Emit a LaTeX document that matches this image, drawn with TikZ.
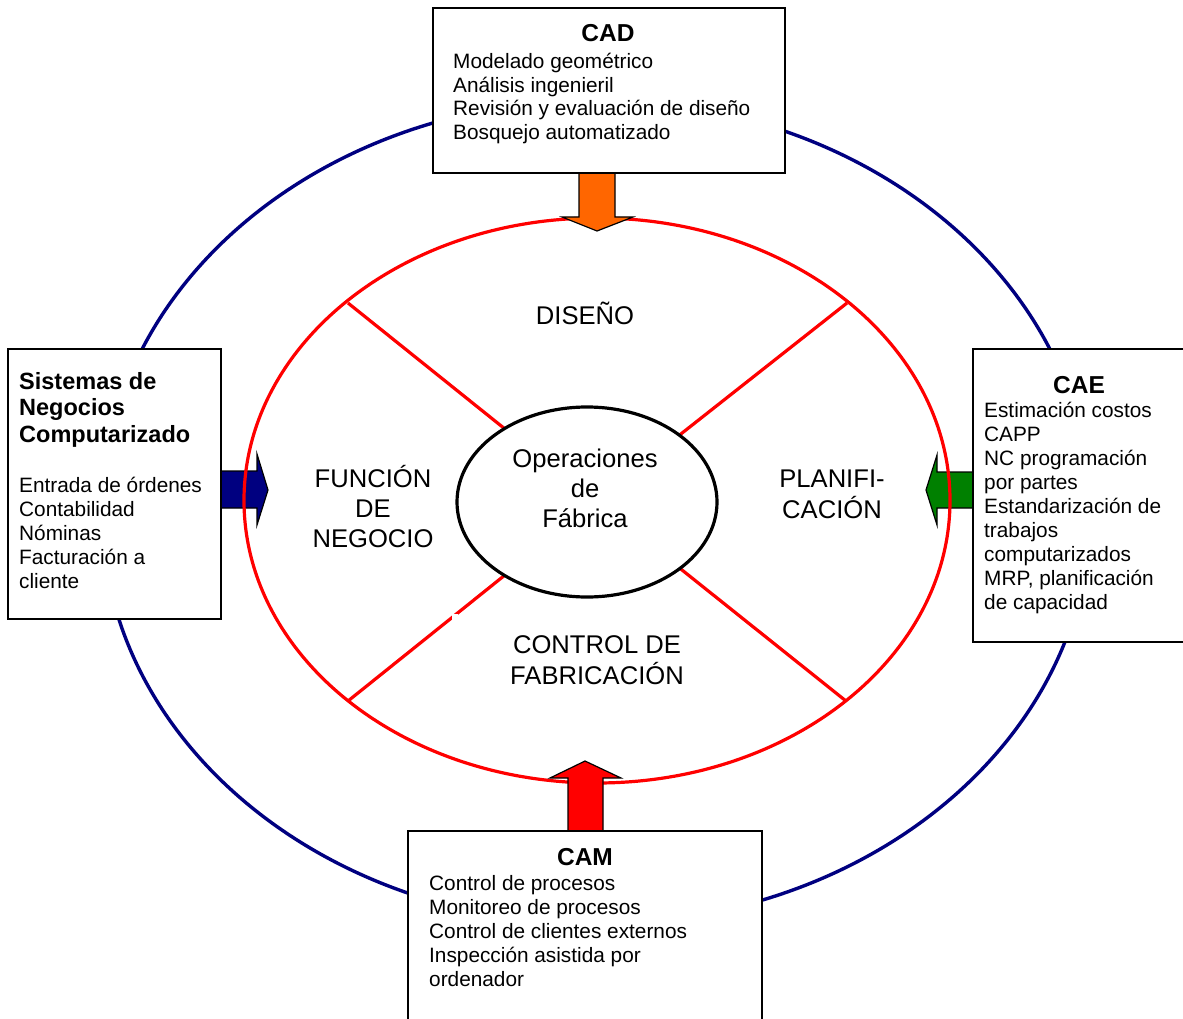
\documentclass[tikz,border=0pt]{standalone}
\usepackage{fontspec}
\setmainfont{Liberation Sans}
\definecolor{navyline}{RGB}{0,0,128}
\definecolor{ringred}{RGB}{255,0,0}
\definecolor{cadorange}{RGB}{255,102,0}
\definecolor{caegreen}{RGB}{0,128,0}

\begin{document}
\begin{tikzpicture}[x=1pt,y=-1pt,
  box/.style={draw=black, line width=2pt, fill=white, inner sep=0pt, outer sep=0pt, anchor=north west},
  boxtitle/.style={anchor=base, inner sep=0pt, font=\fontsize{24.5}{28}\selectfont\bfseries},
  sidetitle/.style={anchor=base west, inner sep=0pt, font=\fontsize{23.5}{26.5}\selectfont\bfseries},
  boxbody/.style={anchor=base west, inner sep=0pt, font=\fontsize{20.8}{24}\selectfont},
  ringlabel/.style={anchor=base, inner sep=0pt, font=\fontsize{25.6}{30}\selectfont},
  blockarrow/.style={draw=black, line width=1.2pt, line join=miter},
  spoke/.style={draw=ringred, line width=3.2pt},
]
\useasboundingbox (0,0) rectangle (1183,1019);
\fill[white] (0,0) rectangle (1183,1019);

% outer ring
\draw[navyline, line width=3.4pt] (596,512) ellipse [x radius=494, y radius=412];

% side arrows, lying under the red ring
\filldraw[blockarrow, fill=navyline]
  (215,471) -- (257,471) -- (257,454) -- (268,490) -- (257,525) -- (257,508) -- (215,508) -- cycle;
\filldraw[blockarrow, fill=caegreen]
  (979,472) -- (937,472) -- (937,455) -- (926,490) -- (937,525) -- (937,508) -- (979,508) -- cycle;

% red ring and its spokes
\coordinate (ul) at (348,303); \coordinate (uli) at (510,433);
\coordinate (ur) at (847,303); \coordinate (uri) at (672,441);
\coordinate (ll) at (348,701); \coordinate (lli) at (510,571);
\coordinate (lr) at (846,701); \coordinate (lri) at (672,562);
\draw[ringred, line width=3.2pt] (597,500.5) ellipse [x radius=353, y radius=282.5];
\draw[spoke] (ul) -- (uli);
\draw[spoke] (ur) -- (uri);
\draw[spoke] (ll) -- (lli);
\draw[spoke] (lr) -- (lri);
\fill[white] (452,614) rectangle (458,621);

% hub
\draw[black, line width=3.2pt, fill=white] (587,502) ellipse [x radius=130, y radius=95];

% vertical arrows, lying over the red ring
\filldraw[blockarrow, fill=cadorange]
  (579,167) -- (579,217) -- (562,217) -- (597,231) -- (633,217) -- (615,217) -- (615,167) -- cycle;
\filldraw[blockarrow, fill=ringred]
  (568,837) -- (568,778) -- (550,778) -- (585,761) -- (621,778) -- (603,778) -- (603,837) -- cycle;

% boxes
\node[box, minimum width=352, minimum height=165] (cad) at (433,8) {};
\node[box, minimum width=213, minimum height=270] (sng) at (8,349) {};
\node[box, minimum width=220, minimum height=293] (cae) at (973,349) {};
\node[box, minimum width=354, minimum height=200] (cam) at (408,831) {};

% box texts
\node[boxtitle] (cadT) at (608,42) {CAD};
\node[boxbody, font=\fontsize{20.8}{23.7}\selectfont] (cadB) at (453,68.5) {\begin{tabular}[t]{@{}l@{}}
Modelado geométrico\\
Análisis ingenieril\\
Revisión y evaluación de diseño\\
Bosquejo automatizado\end{tabular}};

\node[sidetitle] (sngT) at (19,389) {\begin{tabular}[t]{@{}l@{}}
Sistemas de\\ Negocios\\ Computarizado\end{tabular}};
\node[boxbody] (sngB) at (19,492.5) {\begin{tabular}[t]{@{}l@{}}
Entrada de órdenes\\
Contabilidad\\
Nóminas\\
Facturación a\\
cliente\end{tabular}};

\node[boxtitle] (caeT) at (1079,393) {CAE};
\node[boxbody] (caeB) at (984,417.5) {\begin{tabular}[t]{@{}l@{}}
Estimación costos\\
CAPP\\
NC programación\\
por partes\\
Estandarización de\\
trabajos\\
computarizados\\
MRP, planificación\\
de capacidad\end{tabular}};

\node[boxtitle] (camT) at (585,865) {CAM};
\node[boxbody] (camB) at (429,890.5) {\begin{tabular}[t]{@{}l@{}}
Control de procesos\\
Monitoreo de procesos\\
Control de clientes externos\\
Inspección asistida por\\
ordenador\end{tabular}};

% ring labels
\node[ringlabel] (dis) at (585,324) {DISEÑO};
\node[ringlabel] (fun) at (373,487) {\begin{tabular}[t]{@{}c@{}}FUNCIÓN\\ DE\\ NEGOCIO\end{tabular}};
\node[ringlabel] (pla) at (832,487) {\begin{tabular}[t]{@{}c@{}}PLANIFI-\\ CACIÓN\end{tabular}};
\node[ringlabel] (con) at (597,653) {\begin{tabular}[t]{@{}c@{}}CONTROL DE\\ FABRICACIÓN\end{tabular}};
\node[ringlabel] (ope) at (585,467) {\begin{tabular}[t]{@{}c@{}}Operaciones\\ de\\ Fábrica\end{tabular}};
\end{tikzpicture}
\end{document}
